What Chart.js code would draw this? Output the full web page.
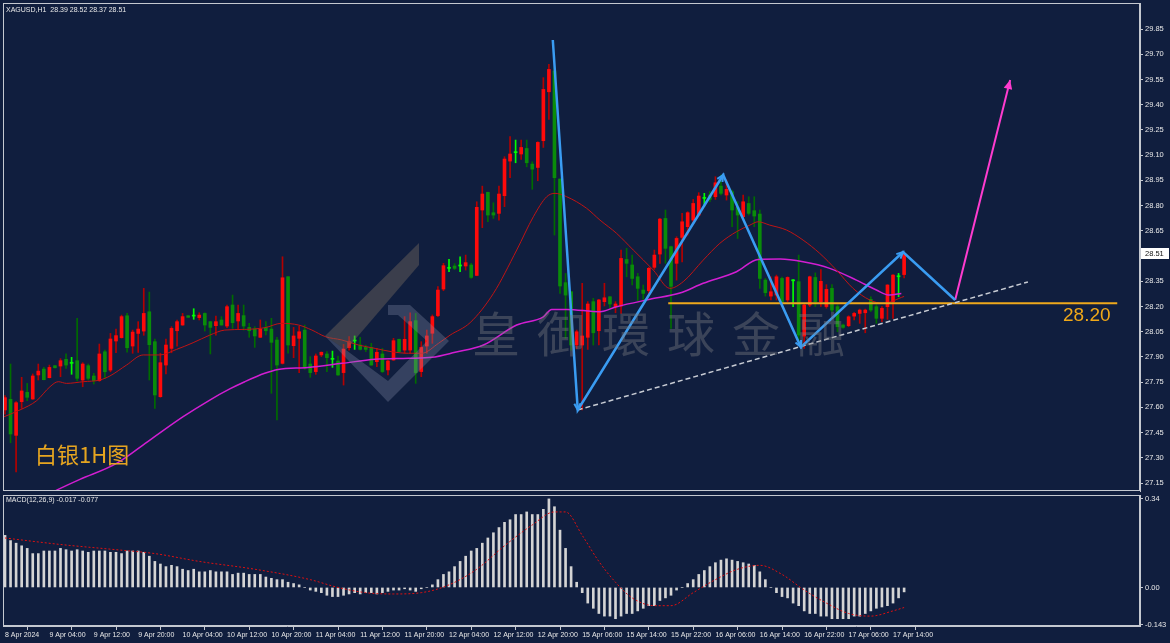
<!DOCTYPE html>
<html><head><meta charset="utf-8">
<script src="https://cdn.jsdelivr.net/npm/chart.js@4.4.0/dist/chart.umd.min.js"></script>
<style>
html,body{margin:0;padding:0;background:#101e3e;overflow:hidden;}
#wrap{position:relative;width:1170px;height:643px;background:#101e3e;}
#c1{position:absolute;left:0;top:0;}
#c2{position:absolute;left:0;top:493px;}
</style></head><body>
<div id="wrap"><canvas id="c1" width="1170" height="493"></canvas><canvas id="c2" width="1170" height="150"></canvas></div>
<script>
// ---------- DATA ----------
const symbol = 'XAGUSD,H1';
const tickBars = [0,8,16,24,32,40,48,56,64,72,80,88,96,104,112,120,128,136,144,152,160];
const tickLabels = ['8 Apr 2024','9 Apr 04:00','9 Apr 12:00','9 Apr 20:00','10 Apr 04:00','10 Apr 12:00','10 Apr 20:00','11 Apr 04:00','11 Apr 12:00','11 Apr 20:00','12 Apr 04:00','12 Apr 12:00','12 Apr 20:00','15 Apr 06:00','15 Apr 14:00','15 Apr 22:00','16 Apr 06:00','16 Apr 14:00','16 Apr 22:00','17 Apr 06:00','17 Apr 14:00'];
const priceTicks = [29.85,29.70,29.55,29.40,29.25,29.10,28.95,28.80,28.65,28.35,28.20,28.05,27.90,27.75,27.60,27.45,27.30,27.15];
const macdTicks = [0.34,0,-0.143];
const macdTickLabels = ['0.34','0.00','-0.143'];

const opens = [27.585,27.648,27.434,27.634,27.690,27.650,27.793,27.828,27.777,27.848,27.846,27.886,27.862,27.878,27.763,27.848,27.787,27.759,27.931,27.822,
27.995,28.015,28.145,27.965,28.040,28.054,28.169,27.991,27.664,27.852,27.951,28.056,28.090,28.145,28.143,28.134,28.159,28.110,28.086,28.120,
28.084,28.209,28.114,28.146,28.076,28.066,28.017,28.076,28.066,28.001,27.862,28.377,27.967,28.011,28.060,27.858,27.813,27.912,27.918,27.886,
27.876,27.807,27.955,27.995,27.971,27.957,27.957,27.872,27.918,27.823,27.882,28.005,27.941,27.941,28.116,27.813,27.965,28.041,28.146,28.304,
28.427,28.441,28.441,28.441,28.447,28.385,28.774,28.879,28.758,28.754,28.859,29.065,29.115,29.107,29.140,29.047,29.027,29.186,29.477,29.600,
28.958,28.342,28.288,27.971,27.971,28.017,28.229,28.056,28.229,28.258,28.199,28.203,28.480,28.447,28.377,28.298,28.294,28.433,28.512,28.724,
28.556,28.457,28.611,28.675,28.714,28.744,28.843,28.863,28.853,28.916,28.863,28.883,28.790,28.734,28.813,28.770,28.750,28.357,28.262,28.268,
28.367,28.239,28.353,28.348,28.024,28.209,28.373,28.229,28.200,28.308,28.199,28.090,28.086,28.143,28.159,28.163,28.243,28.199,28.130,28.199,
28.229,28.377,28.39];
const highs = [27.670,27.858,27.635,27.779,27.743,27.799,27.858,27.838,27.852,27.850,27.890,27.918,27.898,28.130,27.866,27.858,27.803,27.977,27.941,28.040,
28.066,28.149,28.159,28.060,28.110,28.308,28.286,28.007,27.922,28.007,28.080,28.120,28.159,28.147,28.187,28.163,28.163,28.112,28.143,28.140,
28.209,28.268,28.209,28.209,28.100,28.080,28.120,28.110,28.130,28.017,28.496,28.380,28.076,28.084,28.090,27.902,27.918,27.930,27.932,27.935,
27.906,27.975,28.021,28.025,28.017,27.970,27.981,27.951,27.951,27.880,28.011,28.007,28.140,28.163,28.159,27.991,28.060,28.150,28.318,28.457,
28.480,28.455,28.496,28.506,28.457,28.823,28.916,28.880,28.817,28.916,29.091,29.210,29.190,29.190,29.190,29.061,29.180,29.561,29.640,29.620,
28.960,28.397,28.290,28.060,28.338,28.229,28.249,28.243,28.338,28.260,28.229,28.536,28.546,28.506,28.397,28.328,28.433,28.536,28.724,28.774,
28.560,28.615,28.754,28.764,28.837,28.877,28.873,28.883,28.972,28.982,28.952,28.893,28.823,28.863,28.853,28.853,28.774,28.367,28.377,28.387,
28.375,28.377,28.360,28.506,28.219,28.381,28.400,28.420,28.330,28.330,28.210,28.095,28.145,28.165,28.185,28.185,28.258,28.210,28.200,28.330,
28.390,28.397,28.52];
const lows = [27.560,27.390,27.216,27.594,27.640,27.648,27.763,27.763,27.775,27.834,27.783,27.832,27.797,27.757,27.723,27.763,27.739,27.755,27.773,27.812,
27.925,28.012,27.929,27.922,27.927,28.029,27.763,27.594,27.660,27.799,27.925,27.965,28.088,28.134,28.124,28.120,28.054,27.918,28.029,28.088,
28.074,28.070,28.064,28.060,28.017,27.957,28.015,28.031,27.684,27.525,27.858,27.922,27.896,27.807,27.826,27.779,27.797,27.902,27.813,27.838,
27.790,27.733,27.941,27.945,27.941,27.932,27.850,27.842,27.807,27.793,27.880,27.928,27.922,27.922,27.743,27.783,27.922,27.981,28.140,28.294,
28.407,28.420,28.407,28.417,28.367,28.383,28.669,28.704,28.724,28.714,28.794,28.966,29.055,29.075,29.031,28.897,28.948,29.146,29.313,28.625,
28.278,28.011,27.941,27.950,27.585,27.945,27.971,27.971,28.203,28.189,28.163,28.159,28.377,28.328,28.235,28.243,28.278,28.421,28.457,28.457,
28.070,28.357,28.466,28.625,28.694,28.738,28.794,28.823,28.837,28.863,28.833,28.675,28.605,28.724,28.744,28.675,28.308,28.262,28.239,28.239,
28.199,28.229,28.199,27.991,27.951,28.199,28.200,28.200,28.190,28.170,28.050,28.070,28.080,28.120,28.100,28.044,28.170,28.100,28.110,28.124,
28.130,28.258,28.37];
const closes = [27.658,27.442,27.628,27.698,27.660,27.787,27.816,27.765,27.838,27.836,27.878,27.852,27.862,27.773,27.858,27.773,27.759,27.918,27.812,28.007,
28.027,28.140,27.955,28.048,28.066,28.159,27.973,27.674,27.866,27.971,28.070,28.110,28.140,28.136,28.143,28.149,28.090,28.076,28.110,28.090,
28.199,28.104,28.159,28.084,28.056,28.025,28.066,28.056,27.987,27.852,28.371,27.971,28.025,28.050,27.842,27.807,27.906,27.928,27.896,27.886,
27.793,27.947,27.991,27.995,27.945,27.945,27.852,27.928,27.813,27.876,27.997,27.932,28.005,28.110,27.807,27.957,28.025,28.140,28.298,28.443,
28.427,28.427,28.441,28.461,28.373,28.790,28.869,28.744,28.744,28.869,29.077,29.107,29.115,29.146,29.055,29.017,29.176,29.491,29.610,28.966,
28.322,28.268,27.971,28.050,28.025,28.215,28.044,28.239,28.252,28.215,28.215,28.486,28.457,28.367,28.308,28.278,28.427,28.506,28.720,28.546,
28.320,28.605,28.704,28.758,28.813,28.857,28.843,28.837,28.936,28.873,28.897,28.774,28.744,28.823,28.754,28.738,28.367,28.282,28.288,28.377,
28.229,28.373,28.353,28.030,28.209,28.377,28.229,28.350,28.302,28.179,28.080,28.076,28.139,28.159,28.179,28.179,28.179,28.130,28.189,28.328,
28.387,28.377,28.51];

// moving averages
const maFastX = [-0.5,2.7,5.7,8.1,9.6,11.1,14.1,17.1,18.9,21.9,24.9,27.9,30.9,33.9,36.9,39.6,43.2,46.8,49.8,52.9,55.3,57.7,60.7,63.7,66.7,69.7,72.7,75.1,78.1,80.2,83.8,88,92.2,95.2,97.6,99.1,101.2,104.8,107.2,110.2,113.2,116.8,119.8,122.2,125.8,128.8,131.8,134.2,135.7,137.8,140.8,143.8,146.8,149.8,152.8,155.8,158.2,162];
const maFastY = [27.54,27.585,27.64,27.723,27.753,27.743,27.753,27.763,27.787,27.852,27.912,27.912,27.945,27.985,28.03,28.06,28.064,28.074,28.10,28.09,28.06,28.021,28.001,27.971,27.951,27.931,27.922,27.922,27.981,28.03,28.104,28.278,28.536,28.734,28.853,28.873,28.853,28.784,28.714,28.635,28.536,28.417,28.308,28.348,28.476,28.576,28.645,28.684,28.704,28.684,28.655,28.595,28.516,28.417,28.308,28.239,28.219,28.26];
const maSlowX = [0,9.4,13.5,20.1,26.1,32.1,36.9,40.5,43.2,46.8,49.2,54.6,60.7,66.7,72.7,76.9,81.1,86.2,92.2,97,98.5,101.2,107.2,110.2,116.2,121.6,125.8,131.8,135.7,139.7,143.8,148.6,153.4,157,159.4,161.5];
const maSlowY = [26.96,27.11,27.172,27.267,27.406,27.545,27.644,27.71,27.753,27.803,27.826,27.838,27.862,27.886,27.892,27.898,27.928,27.971,28.09,28.139,28.183,28.183,28.169,28.199,28.243,28.28,28.338,28.407,28.48,28.482,28.466,28.427,28.357,28.298,28.268,28.278];

// annotations (bar index, price)
const zigX = [98.7,103.2,129.4,143.4,161.8,171.2];
const zigY = [29.785,27.585,28.982,27.959,28.524,28.239];
const arrowX = [171.2,181.1];
const arrowY = [28.239,29.547];
const trendX = [103.2,184.3];
const trendY = [27.585,28.346];
const levelX = [119.5,200.4];
const levelY = [28.22,28.22];
const levelText = '28.20';
const titleText = '白银1H图';
const brandText = '皇御環球金融';

// MACD
const macdMain = [0.20,0.18,0.17,0.16,0.15,0.13,0.13,0.14,0.14,0.14,0.15,0.145,0.14,0.145,0.14,0.135,0.14,0.14,0.14,0.135,
0.135,0.13,0.14,0.14,0.14,0.135,0.12,0.10,0.09,0.08,0.085,0.08,0.07,0.065,0.07,0.06,0.06,0.065,0.06,0.06,
0.06,0.05,0.055,0.055,0.05,0.05,0.05,0.04,0.035,0.03,0.03,0.02,0.015,0.01,0.0,-0.01,-0.015,-0.02,-0.03,-0.035,
-0.035,-0.03,-0.025,-0.02,-0.025,-0.02,-0.02,-0.025,-0.02,-0.015,-0.01,-0.01,-0.005,-0.01,-0.015,-0.005,0.0,0.01,0.03,0.05,
0.06,0.08,0.10,0.12,0.14,0.15,0.17,0.19,0.21,0.23,0.25,0.26,0.28,0.28,0.29,0.28,0.28,0.30,0.34,0.31,
0.22,0.15,0.08,0.02,-0.02,-0.06,-0.08,-0.10,-0.11,-0.11,-0.12,-0.11,-0.10,-0.10,-0.09,-0.08,-0.07,-0.07,-0.05,-0.04,
-0.03,-0.01,0.0,0.015,0.03,0.05,0.065,0.08,0.095,0.105,0.11,0.105,0.10,0.095,0.09,0.085,0.06,0.03,0.0,-0.02,
-0.035,-0.04,-0.06,-0.07,-0.09,-0.10,-0.10,-0.11,-0.11,-0.12,-0.12,-0.12,-0.12,-0.11,-0.11,-0.10,-0.09,-0.08,-0.075,-0.07,
-0.06,-0.04,-0.017];
const signalX = [0,10,20,27,35,45,55,60,65,70,75,80,85,90,95,99,101,104,107,110,113,117,120,124,128,132,136,140,144,148,152,156,160,162];
const signalY = [0.19,0.165,0.145,0.13,0.10,0.07,0.03,0.0,-0.02,-0.025,-0.02,0.01,0.07,0.16,0.24,0.29,0.29,0.20,0.10,0.02,-0.04,-0.07,-0.07,-0.02,0.03,0.07,0.085,0.05,-0.01,-0.06,-0.10,-0.11,-0.09,-0.077];
const macdLabel = 'MACD(12,26,9) -0.017 -0.077';

// ---------- STYLE ----------
const FRAME = '#c4c8d0';
const TXT = '#e8e8e8';
const FONT = 'Liberation Sans';
const X_MIN = -0.36, X_MAX = 204.5;
const dir = i => closes[i] > opens[i] ? 1 : (closes[i] < opens[i] ? -1 : 0);
const pts = (xs, ys) => xs.map((x, i) => ({x, y: ys[i]}));
const noPad = s => { s.paddingTop = 0; s.paddingBottom = 0; s.paddingLeft = 0; s.paddingRight = 0; };

function arrowHead(ctx, x1, y1, x2, y2, size, color, filled) {
  const a = Math.atan2(y2 - y1, x2 - x1);
  ctx.save();
  ctx.strokeStyle = color; ctx.fillStyle = color; ctx.lineWidth = 2;
  ctx.beginPath();
  ctx.moveTo(x2 - size * Math.cos(a - 0.45), y2 - size * Math.sin(a - 0.45));
  ctx.lineTo(x2, y2);
  ctx.lineTo(x2 - size * Math.cos(a + 0.45), y2 - size * Math.sin(a + 0.45));
  if (filled) { ctx.closePath(); ctx.fill(); } else ctx.stroke();
  ctx.restore();
}

const frameY = {
  id: 'frame',
  afterDraw(chart) {
    const {ctx, chartArea: a} = chart;
    ctx.save();
    ctx.strokeStyle = FRAME; ctx.lineWidth = 1;
    ctx.strokeRect(Math.round(a.left) + 0.5, Math.round(a.top) + 0.5, Math.round(a.right - a.left) - 1, Math.round(a.bottom - a.top) - 1);
    ctx.restore();
  }
};

const deco = {
  id: 'deco',
  afterDatasetsDraw(chart) {
    const {ctx, scales: {x, y}, chartArea: a} = chart;
    ctx.save();
    ctx.beginPath(); ctx.rect(a.left, a.top, a.right - a.left, a.bottom - a.top); ctx.clip();
    // watermark logo
    ctx.fillStyle = 'rgba(120,108,95,0.42)';
    ctx.beginPath(); ctx.moveTo(419,243); ctx.lineTo(419,265); ctx.lineTo(346,350); ctx.lineTo(325,336); ctx.closePath(); ctx.fill();
    ctx.fillStyle = 'rgba(140,150,175,0.30)';
    ctx.beginPath(); ctx.moveTo(388,305); ctx.lineTo(410,305); ctx.lineTo(449,341); ctx.lineTo(388,402); ctx.lineTo(388,381); ctx.lineTo(427,341); ctx.lineTo(398,315); ctx.lineTo(388,315); ctx.closePath(); ctx.fill();
    ctx.beginPath(); ctx.moveTo(325,336); ctx.lineTo(346,350); ctx.lineTo(388,381); ctx.lineTo(388,402); ctx.closePath(); ctx.fill();
    ctx.fillStyle = 'rgba(125,125,130,0.40)';
    ctx.font = '48px "Noto Sans CJK TC"';
    ctx.textBaseline = 'middle'; ctx.textAlign = 'left';
    [...brandText].forEach((ch, k) => ctx.fillText(ch, 472 + k * 65, 334));
    ctx.restore();

    ctx.save();
    for (let k = 1; k < zigX.length - 1; k++) {
      arrowHead(ctx, x.getPixelForValue(zigX[k-1]), y.getPixelForValue(zigY[k-1]), x.getPixelForValue(zigX[k]), y.getPixelForValue(zigY[k]), 7, '#3a9cf2', false);
    }
    arrowHead(ctx, x.getPixelForValue(arrowX[0]), y.getPixelForValue(arrowY[0]), x.getPixelForValue(arrowX[1]), y.getPixelForValue(arrowY[1]), 10, '#ff3ccf', true);
    ctx.fillStyle = '#f0a818';
    ctx.font = '19px "Liberation Sans"';
    ctx.textBaseline = 'middle'; ctx.textAlign = 'left';
    ctx.fillText(levelText, 1063, 316);
    ctx.fillStyle = '#e6a520';
    ctx.font = '22px "Noto Sans CJK SC"';
    ctx.fillText(titleText, 35, 455);
    const n = closes.length - 1;
    ctx.fillStyle = TXT;
    ctx.font = '7px ' + FONT;
    ctx.fillText(`${symbol}  ${opens[n].toFixed(2)} ${highs[n].toFixed(2)} ${lows[n].toFixed(2)} ${closes[n].toFixed(2)}`, 6, 10);
    ctx.restore();
  },
  afterDraw(chart) {
    const {ctx, scales: {y}, chartArea: a} = chart;
    const n = closes.length - 1;
    const py = Math.round(y.getPixelForValue(closes[n]));
    ctx.save();
    ctx.fillStyle = '#ffffff';
    ctx.fillRect(a.right + 1, py - 6, 28, 11);
    ctx.fillStyle = '#101010';
    ctx.font = '7.5px ' + FONT;
    ctx.textBaseline = 'middle'; ctx.textAlign = 'left';
    ctx.fillText(closes[n].toFixed(2), a.right + 5, py);
    ctx.restore();
  }
};

const lineDs = (data, color, width, order, extra) => Object.assign({
  type: 'line', data, borderColor: color, borderWidth: width, pointRadius: 0, fill: false, order, tension: 0
}, extra || {});

new Chart(document.getElementById('c1'), {
  type: 'bar',
  data: {
    datasets: [
      { label: 'wick', data: highs.map((h, i) => ({x: i, y: [lows[i], h]})), barThickness: 1, grouped: false, order: 4,
        backgroundColor: c => { const d = dir(c.dataIndex); return d > 0 ? '#b40000' : d < 0 ? '#006c00' : '#00ff00'; } },
      { label: 'body', data: opens.map((o, i) => ({x: i, y: [o, closes[i]]})), barThickness: 3, minBarLength: 1, grouped: false, order: 3,
        backgroundColor: c => { const d = dir(c.dataIndex); return d > 0 ? '#ff0a0a' : d < 0 ? '#0a8c0a' : '#00ff00'; } },
      lineDs(pts(maFastX, maFastY), '#c01414', 1, 2, {cubicInterpolationMode: 'monotone'}),
      lineDs(pts(maSlowX, maSlowY), '#d21ed2', 1.5, 2, {cubicInterpolationMode: 'monotone'}),
      lineDs(pts(trendX, trendY), '#c8ccd4', 1.5, 1, {borderDash: [5, 3]}),
      lineDs(pts(levelX, levelY), '#eea91c', 2, 1),
      lineDs(pts(zigX, zigY), '#3a9cf2', 2.5, 0),
      lineDs(pts(arrowX, arrowY), '#ff3ccf', 2, 0)
    ]
  },
  options: {
    responsive: false, animation: false, events: [],
    layout: { padding: { left: 3, top: 3, bottom: 2, right: 0 } },
    plugins: { legend: { display: false }, tooltip: { enabled: false } },
    scales: {
      x: { type: 'linear', min: X_MIN, max: X_MAX, display: false, offset: false },
      y: { type: 'linear', position: 'right', min: 27.103, max: 30.005,
        afterFit: s => { s.width = 30; noPad(s); },
        afterBuildTicks: s => { s.ticks = priceTicks.map(v => ({value: v})); },
        ticks: { color: TXT, font: { family: FONT, size: 7.5 }, padding: 2, callback: v => Number(v).toFixed(2) },
        grid: { drawOnChartArea: false, drawTicks: true, tickLength: 3, color: FRAME },
        border: { display: true, color: FRAME } }
    }
  },
  plugins: [deco, frameY]
});

const macdDeco = {
  id: 'macdDeco',
  afterDatasetsDraw(chart) {
    const {ctx} = chart;
    ctx.save();
    ctx.fillStyle = TXT; ctx.font = '7px ' + FONT;
    ctx.textBaseline = 'middle'; ctx.textAlign = 'left';
    ctx.fillText(macdLabel, 6, 7);
    ctx.restore();
  }
};

new Chart(document.getElementById('c2'), {
  type: 'bar',
  data: {
    datasets: [
      { data: macdMain.map((v, i) => ({x: i, y: v})), barThickness: 2, backgroundColor: '#d4d4d4', grouped: false, order: 2 },
      lineDs(pts(signalX, signalY), '#e01010', 1, 0, {borderDash: [2, 2], cubicInterpolationMode: 'monotone'})
    ]
  },
  options: {
    responsive: false, animation: false, events: [],
    layout: { padding: { left: 3, top: 2, bottom: 0, right: 0 } },
    plugins: { legend: { display: false }, tooltip: { enabled: false } },
    scales: {
      x: { type: 'linear', min: X_MIN, max: X_MAX, offset: false,
        afterFit: s => { s.height = 17; noPad(s); },
        afterBuildTicks: s => { s.ticks = tickBars.map(v => ({value: v})); },
        ticks: { color: TXT, font: { family: FONT, size: 7 }, autoSkip: false, maxRotation: 0, align: 'start', padding: 1,
          callback: v => tickLabels[tickBars.indexOf(v)] },
        grid: { drawOnChartArea: false, drawTicks: true, tickLength: 4, color: FRAME },
        border: { display: true, color: FRAME } },
      y: { type: 'linear', position: 'right', min: -0.148, max: 0.355,
        afterFit: s => { s.width = 30; noPad(s); },
        afterBuildTicks: s => { s.ticks = macdTicks.map(v => ({value: v})); },
        ticks: { color: TXT, font: { family: FONT, size: 7.5 }, padding: 2, callback: v => macdTickLabels[macdTicks.indexOf(v)] },
        grid: { drawOnChartArea: false, drawTicks: true, tickLength: 3, color: FRAME },
        border: { display: true, color: FRAME } }
    }
  },
  plugins: [macdDeco, frameY]
});
</script>
</body></html>
